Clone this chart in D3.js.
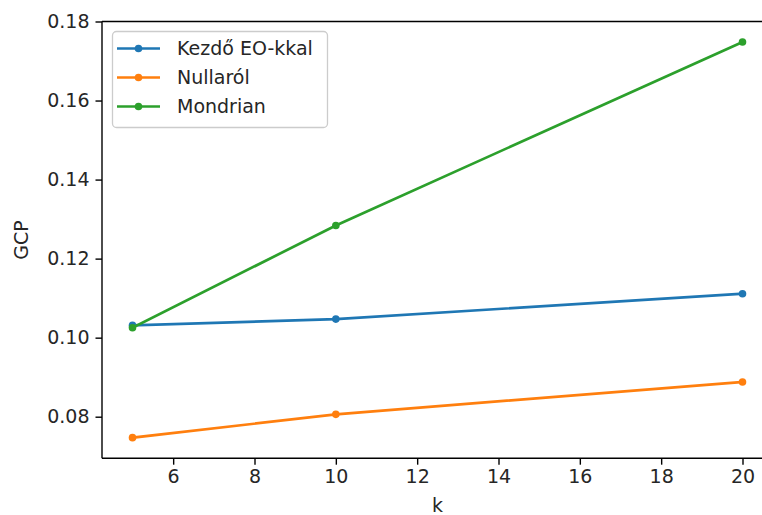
<!DOCTYPE html>
<html><head><meta charset="utf-8">
<script src="https://cdn.jsdelivr.net/npm/d3@7"></script>
<style>
html,body{margin:0;padding:0;background:#fff;overflow:hidden}
text{font-family:"DejaVu Sans",sans-serif;fill:#262626}
</style></head>
<body><svg id="c" width="762" height="515"></svg>
<script>
const kValues = [5, 10, 20];
const seriesNames = ["Kezdő EO-kkal", "Nullaról", "Mondrian"];
const kezdo = [0.1031, 0.1047, 0.1111];
const nullarol = [0.0747, 0.0806, 0.0888];
const mondrian = [0.1025, 0.1284, 0.1748];
const colors = ["#1f77b4", "#ff7f0e", "#2ca02c"];
const xTicks = [6, 8, 10, 12, 14, 16, 18, 20];
const yTicks = [0.08, 0.10, 0.12, 0.14, 0.16, 0.18];
const xLabel = "k", yLabel = "GCP";

const series = [kezdo, nullarol, mondrian];
const svg = d3.select("#c");
const fs = 19;
const x = d3.scaleLinear().domain([4.25, 20.75]).range([102, 773]);
const y = d3.scaleLinear().domain([0.0695, 0.18]).range([458.2, 21.5]);

// axes
const xa = svg.append("g").attr("transform", "translate(0,458.2)")
  .call(d3.axisBottom(x).tickValues(xTicks).tickFormat(d3.format("d")).tickSize(6.5).tickPadding(5));
const ya = svg.append("g").attr("transform", "translate(102,0)")
  .call(d3.axisLeft(y).tickValues(yTicks).tickFormat(d3.format(".2f")).tickSize(6.5).tickPadding(6));
[xa, ya].forEach(a => {
  a.select(".domain").remove();
  a.selectAll(".tick line").attr("stroke", "#000").attr("stroke-width", 1.4);
  a.selectAll(".tick text").attr("font-size", fs).attr("font-family", "DejaVu Sans").attr("fill", "#262626");
});
// spines
const sp = svg.append("g").attr("fill", "none").attr("stroke", "#000").attr("stroke-width", 1.4);
sp.append("line").attr("x1", 102).attr("x2", 773).attr("y1", 21.5).attr("y2", 21.5);
sp.append("line").attr("x1", 102).attr("x2", 773).attr("y1", 458.2).attr("y2", 458.2);
sp.append("line").attr("x1", 102).attr("x2", 102).attr("y1", 21.5).attr("y2", 458.2);
sp.append("line").attr("x1", 773).attr("x2", 773).attr("y1", 21.5).attr("y2", 458.2);

// lines
const line = d3.line().x((d, i) => x(kValues[i])).y(d => y(d));
series.forEach((s, si) => {
  const g = svg.append("g");
  g.append("path").datum(s).attr("d", line).attr("fill", "none")
    .attr("stroke", colors[si]).attr("stroke-width", 2.7).attr("stroke-linecap", "square");
  g.selectAll("circle").data(s).enter().append("circle")
    .attr("cx", (d, i) => x(kValues[i])).attr("cy", d => y(d)).attr("r", 3.8).attr("fill", colors[si]);
});

// labels
svg.append("text").attr("x", 437.5).attr("y", 512).attr("text-anchor", "middle").attr("font-size", fs).text(xLabel);
svg.append("text").attr("transform", "translate(28,240) rotate(-90)").attr("text-anchor", "middle").attr("font-size", fs).text(yLabel);

// legend
const lg = svg.append("g");
lg.append("rect").attr("x", 112.5).attr("y", 31.5).attr("width", 215).attr("height", 96).attr("rx", 4)
  .attr("fill", "#fff").attr("fill-opacity", 0.8).attr("stroke", "#ccc").attr("stroke-width", 1.3);
seriesNames.forEach((n, i) => {
  const cy = 48.5 + i * 29;
  lg.append("line").attr("x1", 117).attr("x2", 160).attr("y1", cy).attr("y2", cy)
    .attr("stroke", colors[i]).attr("stroke-width", 2.7);
  lg.append("circle").attr("cx", 138.5).attr("cy", cy).attr("r", 3.8).attr("fill", colors[i]);
  lg.append("text").attr("x", 177).attr("y", cy).attr("dy", "0.36em").attr("font-size", fs).text(n);
});
</script></body></html>
